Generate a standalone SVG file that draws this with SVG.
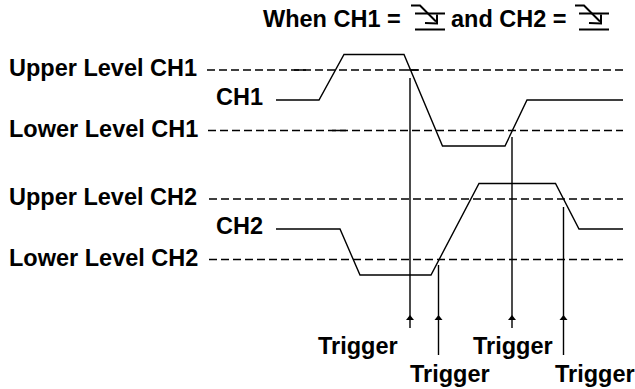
<svg xmlns="http://www.w3.org/2000/svg" width="635" height="389" viewBox="0 0 635 389">
<style>
text{font-family:"Liberation Sans",Arial,sans-serif;font-weight:700;font-size:23.500px;fill:#000}
.d{fill:none;stroke:#000;stroke-width:1.400;stroke-dasharray:8 4}
.s{fill:none;stroke:#000;stroke-width:1.400}
.a{fill:#000}
.i{fill:none;stroke:#000;stroke-width:2}
</style>
<defs>
<g id="edge"><path class="i" d="M0 1H9L25 17"/><path class="i" d="M4 9H34M4 25H34"/><path class="i" d="M14 18.500L26 19V10"/></g>
<path id="ah" class="a" d="M0 0L4 5H-4Z"/>
</defs>
<g id="title"><text x="263" y="27">When CH1 =</text><use href="#edge" x="411" y="4.500"/><text x="451" y="27">and CH2 =</text><use href="#edge" x="575" y="4.500"/></g>
<g id="labels">
<g id="upper-ch1"><text x="9" y="76">Upper Level CH1</text></g>
<g id="ch1-label"><text x="216" y="105">CH1</text></g>
<g id="lower-ch1"><text x="9" y="137">Lower Level CH1</text></g>
<g id="upper-ch2"><text x="9" y="205">Upper Level CH2</text></g>
<g id="ch2-label"><text x="216" y="234">CH2</text></g>
<g id="lower-ch2"><text x="9" y="266">Lower Level CH2</text></g>
<g id="trigger-1"><text x="318" y="354">Trigger</text></g>
<g id="trigger-2"><text x="410" y="382">Trigger</text></g>
<g id="trigger-3"><text x="473" y="354">Trigger</text></g>
<g id="trigger-4"><text x="555" y="382">Trigger</text></g>
</g>
<g id="connectors">
<path class="d" d="M207 70H623M208 130.500H623M209 199H623M209 259.500H623"/>
<path class="s" d="M294 70H306M332 130.500H346M407 70H418"/>
<path class="s" d="M276 100H319L344 54.500H404L442.500 146H505L527 100H623"/>
<path class="s" d="M276 229H340L360 275H431L479 183.500H555.500L579 229H623"/>
<path class="s" d="M410 78V328M438.500 265V355M512 137V328M563.500 207V355"/>
<use href="#ah" x="410" y="315"/><use href="#ah" x="438.500" y="315"/><use href="#ah" x="512" y="315"/><use href="#ah" x="563.500" y="315"/>
</g>
</svg>
